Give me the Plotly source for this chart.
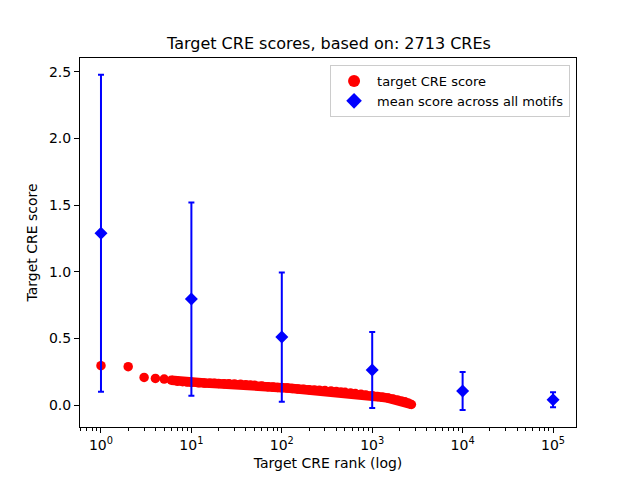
import plotly.graph_objects as go

# Red series: target CRE score by rank
cre_rank = [1, 2, 3, 4, 5, 6, 7, 8, 9, 10, 12, 14, 16, 18, 20, 23, 26, 30, 35, 40, 45, 50,
            60, 70, 80, 90, 100, 115, 130, 150, 175, 200, 230, 260, 300, 350, 400, 450, 500,
            575, 650, 750, 850, 1000, 1150, 1300, 1500, 1700, 1900, 2100, 2300, 2500, 2713]
cre_score = [0.295, 0.288, 0.207, 0.200, 0.195, 0.186, 0.179, 0.175, 0.172, 0.170, 0.167,
             0.165, 0.164, 0.163, 0.162, 0.160, 0.159, 0.158, 0.156, 0.153, 0.150, 0.148,
             0.143, 0.138, 0.135, 0.132, 0.130, 0.127, 0.124, 0.121, 0.118, 0.115, 0.113,
             0.111, 0.109, 0.106, 0.102, 0.098, 0.095, 0.090, 0.086, 0.080, 0.075, 0.070,
             0.064, 0.058, 0.052, 0.045, 0.038, 0.031, 0.024, 0.015, 0.004]

# Blue series: mean score across all motifs with error bars
motif_rank = [1, 10, 100, 1000, 10000, 100000]
motif_mean = [1.29, 0.795, 0.51, 0.263, 0.105, 0.04]
motif_err = [1.19, 0.725, 0.485, 0.285, 0.143, 0.056]

x_ticks = [1, 10, 100, 1000, 10000, 100000]
x_ticktext = ["10<sup>0</sup>", "10<sup>1</sup>", "10<sup>2</sup>", "10<sup>3</sup>",
              "10<sup>4</sup>", "10<sup>5</sup>"]
y_ticks = [0.0, 0.5, 1.0, 1.5, 2.0, 2.5]

minor_vals = [m * 10 ** e for e in range(-1, 6) for m in range(2, 10)]
minor_vals = [v for v in minor_vals if 0.58 < v < 180000]

FONT = "DejaVu Sans"

fig = go.Figure()

# continuous band joining the densely overlapping dots (from rank 6 onwards)
fig.add_trace(go.Scatter(
    x=cre_rank[5:], y=cre_score[5:], mode="lines",
    line=dict(color="#ff0000", width=9.5), showlegend=False, hoverinfo="skip"))

fig.add_trace(go.Scatter(
    x=cre_rank, y=cre_score, mode="markers", name="target CRE score",
    marker=dict(color="#ff0000", size=9.5, line=dict(width=0))))

fig.add_trace(go.Scatter(
    x=motif_rank, y=motif_mean, mode="markers", name="mean score across all motifs",
    marker=dict(color="#0000ff", symbol="diamond", size=10, line=dict(width=0)),
    error_y=dict(type="data", array=motif_err, visible=True, color="#0000ff",
                 thickness=2, width=3)))

fig.update_layout(
    width=640, height=480,
    margin=dict(l=80, r=64, t=58, b=53),
    paper_bgcolor="white", plot_bgcolor="white",
    font=dict(family=FONT, size=13, color="black"),
    title=dict(text="Target CRE scores, based on: 2713 CREs", x=0.514, xanchor="center",
               y=1 - 43 / 480, yanchor="middle", font=dict(size=16, family=FONT)),
    legend=dict(x=0.988, y=0.981, xanchor="right", yanchor="top",
                bgcolor="rgba(255,255,255,0.8)", bordercolor="#cccccc", borderwidth=1,
                font=dict(size=13, family=FONT), tracegroupgap=0,
                itemsizing="constant", itemwidth=36),
    showlegend=True,
)

fig.update_xaxes(
    type="log", range=[-0.232, 5.254],
    tickvals=x_ticks, ticktext=x_ticktext,
    ticks="outside", ticklen=5, tickwidth=1, tickcolor="black",
    showline=True, linecolor="black", linewidth=1, mirror=True,
    showgrid=False, zeroline=False,
    tickfont=dict(size=14, family=FONT),
    minor=dict(tickvals=minor_vals, ticks="outside", ticklen=2.5, tickwidth=0.8,
               tickcolor="black", showgrid=False),
    title=dict(text="Target CRE rank (log)", font=dict(size=14, family=FONT), standoff=6),
)

fig.update_yaxes(
    range=[-0.165, 2.605],
    tickvals=y_ticks, tickformat=".1f",
    ticks="outside", ticklen=5, tickwidth=1, tickcolor="black",
    showline=True, linecolor="black", linewidth=1, mirror=True,
    showgrid=False, zeroline=False,
    tickfont=dict(size=14, family=FONT),
    title=dict(text="Target CRE score", font=dict(size=14, family=FONT), standoff=8),
)

fig.write_html("out.html", config={"displayModeBar": False},
               post_script="document.body.style.margin='0';document.body.style.padding='0';")
